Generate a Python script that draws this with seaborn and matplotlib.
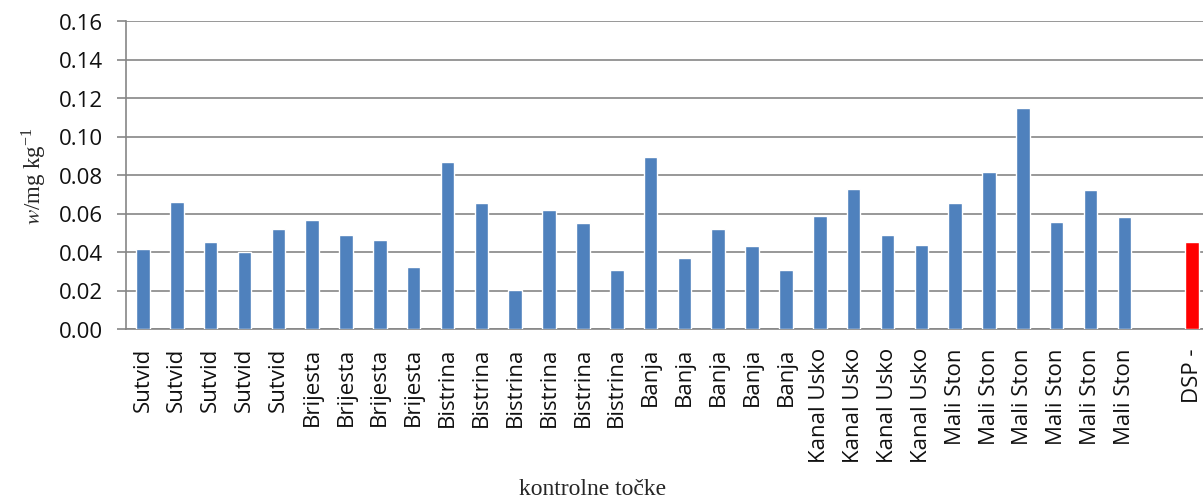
import matplotlib
matplotlib.use("Agg")
import matplotlib.pyplot as plt
import numpy as np
import pandas as pd
import seaborn as sns

# control points (x categories) and measured values
SITES = (["Sutvid"] * 5 + ["Brijesta"] * 4 + ["Bistrina"] * 6 + ["Banja"] * 5
         + ["Kanal Usko"] * 4 + ["Mali Ston"] * 6 + ["", "DSP -"])

VALUES = [0.0415, 0.0659, 0.0453, 0.0398, 0.0522,
          0.0566, 0.0488, 0.0462, 0.0324,
          0.0865, 0.0652, 0.0201, 0.0616, 0.0552, 0.0304,
          0.0891, 0.0369, 0.0522, 0.0429, 0.0304,
          0.0587, 0.0725, 0.0488, 0.0436,
          0.0654, 0.0818, 0.1147, 0.0557, 0.0723, 0.0583,
          np.nan, 0.0452]

BLUE = "#4F81BD"
RED = "#FF0000"
GRID = "#868686"

df = pd.DataFrame({"pos": list(range(len(SITES))), "value": VALUES})
colors = [RED if s.startswith("DSP") else BLUE for s in SITES]

sns.set_style("white")
plt.rcParams["font.family"] = ["Open Sans", "DejaVu Sans"]
plt.rcParams["mathtext.fontset"] = "stix"

fig = plt.figure(figsize=(12.03, 5.02), dpi=100)
ax = fig.add_axes([126 / 1203, 1 - 330 / 502, 1083 / 1203, 308 / 502])

sns.barplot(data=df, x="pos", y="value", hue="pos", palette=colors,
            order=list(range(len(SITES))), legend=False, width=0.4,
            saturation=1, ax=ax, zorder=3)

ax.set_ylim(0, 0.16)
ax.set_xlim(-0.5, len(SITES) - 0.5)
ax.set_yticks(np.arange(0, 0.161, 0.02))
ax.set_yticklabels([f"{v:.2f}" for v in np.arange(0, 0.161, 0.02)], fontsize=16,
                   color="#111111")
ax.yaxis.grid(True, color=GRID, linewidth=1.2, zorder=0)
ax.set_axisbelow(True)

ax.set_xticks(range(len(SITES)))
ax.set_xticklabels(SITES, rotation=90, fontsize=16, color="#111111")
ax.set_xticks(np.arange(-0.5, len(SITES)), minor=True)
ax.tick_params(axis="x", which="major", length=0, pad=13)
ax.tick_params(axis="x", which="minor", length=6, width=1.2, color=GRID, direction="out")
ax.tick_params(axis="y", length=6.5, width=1.2, color=GRID, direction="out", pad=10, left=True)

for side in ["top", "right"]:
    ax.spines[side].set_visible(False)
for side in ["left", "bottom"]:
    ax.spines[side].set_color(GRID)
    ax.spines[side].set_linewidth(1.2)

ax.set_ylabel(r"$\it{w}$/mg kg$^{\mathregular{-1}}$", fontsize=16.5,
              family="Liberation Serif", labelpad=8)
ax.set_xlabel("")
fig.text(593 / 1203, 1 - 490 / 502, "kontrolne točke", fontsize=17,
         family="Liberation Serif", ha="center", va="center")

fig.savefig("out.png", dpi=100)
